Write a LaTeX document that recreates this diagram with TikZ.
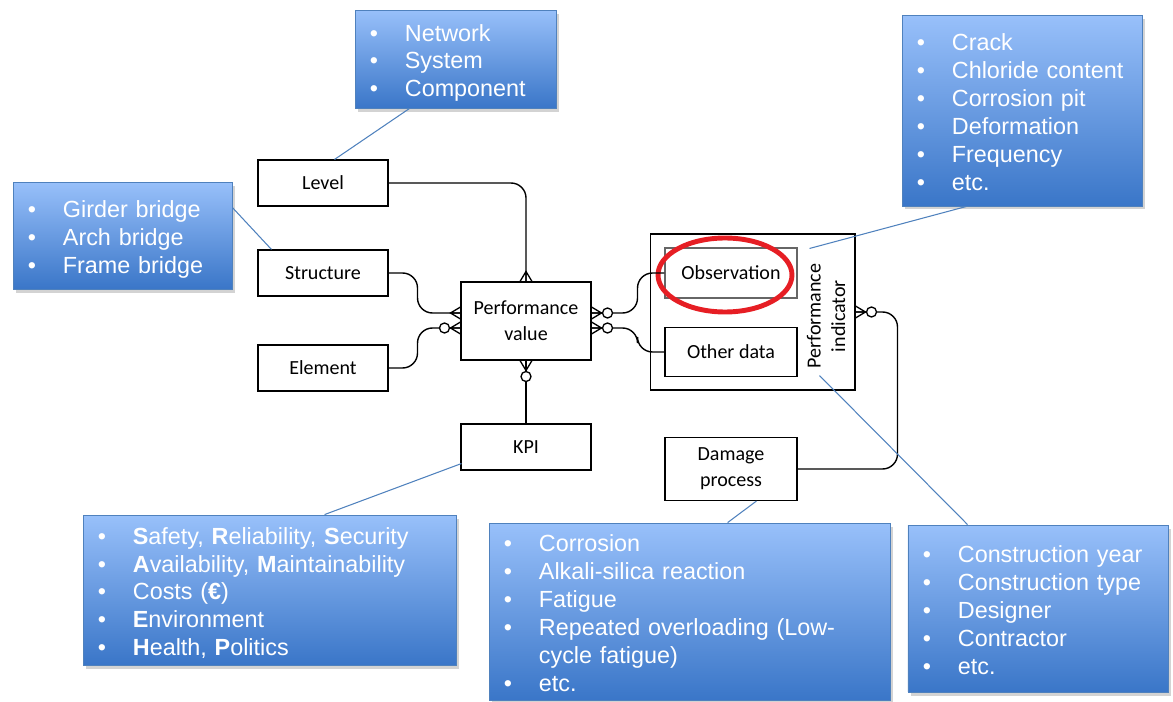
\documentclass[tikz,border=0pt]{standalone}
\usepackage{fontspec}
\setmainfont{Carlito}
\newfontfamily\notefont{Liberation Sans}
\usetikzlibrary{positioning, calc, shadows}
\definecolor{cnotetop}{RGB}{152,192,250}
\definecolor{cnotebot}{RGB}{58,118,200}
\definecolor{cnoteline}{RGB}{79,129,189}
\definecolor{cmark}{RGB}{230,30,36}
\newenvironment{notelist}{\begin{tabular}{@{}p{19.9pt}@{}l@{}}}{\end{tabular}}

\begin{document}
\begin{tikzpicture}[x=0.02cm, y=0.02cm,
    entity/.style={draw, line width=0.6pt, minimum width=2.6cm, minimum height=0.92cm,
                   align=center, font=\fontsize{11.4}{15}\selectfont},
    note/.style={draw=cnoteline, line width=0.5pt, top color=cnotetop, bottom color=cnotebot,
                 text=white, inner xsep=8.5pt, inner ysep=0pt, align=left,
                 font=\notefont\fontsize{13.3}{15.9}\selectfont,
                 execute at begin node={\vspace*{-5pt}},
                 drop shadow={shadow xshift=1.5pt, shadow yshift=-2pt, opacity=0.35}},
    link/.style={line width=0.8pt, rounded corners=0.3cm},
    callout/.style={draw=cnoteline, line width=0.6pt},
    many/.pic={\draw[line width=0.75pt] (0,6) -- (-10,0) -- (0,-6) (0,0) -- (-10,0);},
    zeromany/.pic={\draw[line width=0.75pt] (0,6) -- (-10,0) -- (0,-6) (0,0) -- (-10,0);
                   \draw[line width=0.75pt, fill=white] (-16,0) circle [radius=2.85pt];}]

  \useasboundingbox (0,0) rectangle (1173,-702);

  % --- entities ---
  \node[entity] (lv) at (323,-183) {Level};
  \node[entity] (st) at (323,-273) {Structure};
  \node[entity] (el) at (323,-368) {Element};
  \node[entity, minimum height=1.56cm] (pv) at (526,-321) {Performance\\value};
  \node[entity] (kpi) at (526,-447) {KPI};

  % --- performance indicator: observation + other data ---
  \node[draw, line width=0.6pt, minimum width=4.1cm, minimum height=3.12cm] (pi) at (752.5,-312) {};
  \node[entity, draw=gray!80!black, minimum width=2.64cm, minimum height=1cm] (ob) at (731,-273) {Observation};
  \node[entity, minimum width=2.64cm, minimum height=0.98cm] (od) at (731,-352) {Other data};
  \node[rotate=90, align=center, font=\fontsize{11.4}{14}\selectfont] (pilabel) at (826,-316) {Performance\\indicator};
  \node[entity, minimum width=2.64cm, minimum height=1.26cm] (dp) at (731,-469) {Damage\\process};
  \draw[cmark, line width=2.8pt] (725,-275) ellipse [x radius=1.34cm, y radius=0.74cm];

  % --- relations ---
  \draw[link] (lv.east) -| (pv.north);
  \draw[link] (st.east) -- ++(29,0) |- ($(pv.west)+(0,8)$);
  \draw[link] (el.east) -- ++(29,0) |- ($(pv.west)+(0,-7)$);
  \draw[link] ($(pv.east)+(0,8)$) -- ++(46,0) |- (ob.west);
  \draw[link] ($(pv.east)+(0,-7)$) -- ++(46,0) |- (od.west);
  \draw[link] (kpi.north) -- (pv.south);
  \draw[link] (pi.east) -- ++(42,0) |- (dp.east);

  \pic at ($(pv.west)+(0,8)$) {many};
  \pic at ($(pv.west)+(0,-7)$) {zeromany};
  \pic[rotate=-90] at (pv.north) {many};
  \pic[rotate=90] at (pv.south) {zeromany};
  \pic[rotate=180] at ($(pv.east)+(0,8)$) {zeromany};
  \pic[rotate=180] at ($(pv.east)+(0,-7)$) {zeromany};
  \pic[rotate=180] at (pi.east) {zeromany};

  % --- notes ---
  \node[note, text width=97.4pt, minimum width=4.02cm, minimum height=1.96cm] (net) at (455.5,-59)
    {\begin{notelist} \textbullet & Network\\ \textbullet & System\\ \textbullet & Component \end{notelist}};
  \node[note, text width=107.6pt, minimum width=4.38cm, minimum height=2.14cm] (gir) at (122.5,-235.5)
    {\begin{notelist} \textbullet & Girder bridge\\ \textbullet & Arch bridge\\ \textbullet & Frame bridge \end{notelist}};
  \node[note, text width=119.6pt, minimum width=4.8cm, minimum height=3.82cm] (crk) at (1022,-110.5)
    {\begin{notelist} \textbullet & Crack\\ \textbullet & Chloride content\\ \textbullet & Corrosion pit\\
      \textbullet & Deformation\\ \textbullet & Frequency\\ \textbullet & etc. \end{notelist}};
  \node[note, text width=195.3pt, minimum width=7.46cm, minimum height=3cm] (saf) at (269.5,-590)
    {\begin{notelist} \textbullet & \textbf{S}afety, \textbf{R}eliability, \textbf{S}ecurity\\
      \textbullet & \textbf{A}vailability, \textbf{M}aintainability\\ \textbullet & Costs (\textbf{€})\\
      \textbullet & \textbf{E}nvironment\\ \textbullet & \textbf{H}ealth, \textbf{P}olitics \end{notelist}};
  \node[note, text width=211.2pt, minimum width=8.02cm, minimum height=3.54cm] (cor) at (689.5,-611.5)
    {\begin{notelist} \textbullet & Corrosion\\ \textbullet & Alkali-silica reaction\\ \textbullet & Fatigue\\
      \textbullet & Repeated overloading (Low-\\ & cycle fatigue)\\ \textbullet & etc. \end{notelist}};
  \node[note, text width=131pt, minimum width=5.2cm, minimum height=3.34cm] (con) at (1038,-608.5)
    {\begin{notelist} \textbullet & Construction year\\ \textbullet & Construction type\\ \textbullet & Designer\\
      \textbullet & Contractor\\ \textbullet & etc. \end{notelist}};

  % --- callouts ---
  \draw[callout] ($(net.south west)+(55,0)$) -- ($(lv.north west)+(77,0)$);
  \draw[callout] ($(gir.north east)+(0,-26)$) -- ($(st.north west)+(14,0)$);
  \draw[callout] ($(crk.south west)+(65,0)$) -- ($(pi.north west)+(160,-15)$);
  \draw[callout] ($(pi.south west)+(170,15)$) -- ($(con.north west)+(60,0)$);
  \draw[callout] ($(kpi.south west)+(1,7)$) -- ($(saf.north west)+(242,0)$);
  \draw[callout] ($(dp.south west)+(92,0)$) -- ($(cor.north west)+(239,0)$);
\end{tikzpicture}
\end{document}
